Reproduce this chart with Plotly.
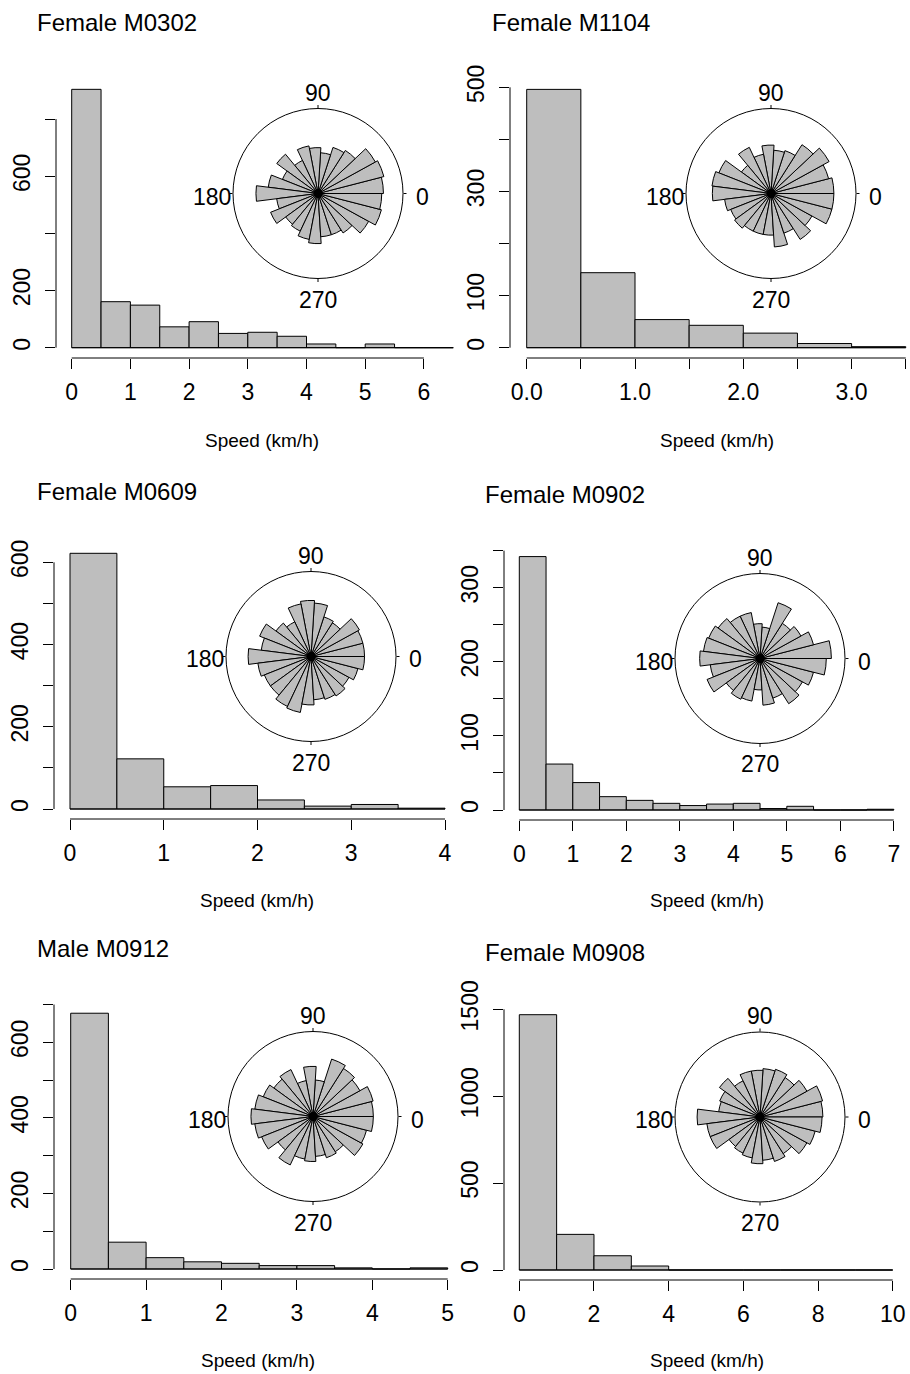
import plotly.graph_objects as go

W, H = 910, 1374
FONT = "Liberation Sans"
GREY = "#BEBEBE"

# ---------------- data ----------------
titles = ["Female M0302", "Female M1104", "Female M0609", "Female M0902", "Male M0912", "Female M0908"]

# histogram counts per speed bin (km/h)
hist_M0302 = [904, 161, 149, 73, 91, 50, 54, 40, 13, 0, 13, 0, 0]
hist_M1104 = [496, 144, 54, 43, 28, 8, 2]
hist_M0609 = [622, 122, 54, 57, 22, 7, 11, 2]
hist_M0902 = [342, 62, 37, 18, 13, 9, 6, 8, 9, 2, 5, 0, 0, 1]
hist_M0912 = [677, 71, 30, 19, 15, 9, 9, 3, 0, 3]
hist_M0908 = [1469, 205, 82, 23, 0, 0, 0, 0, 0, 0]
bin_widths = [0.5, 0.5, 0.5, 0.5, 0.5, 1.0]

# x tick values / labels
xtick_M0302 = [0, 1, 2, 3, 4, 5, 6]
xlab_M0302 = ["0", "1", "2", "3", "4", "5", "6"]
xtick_M1104 = [0, 0.5, 1, 1.5, 2, 2.5, 3, 3.5]
xlab_M1104 = ["0.0", "", "1.0", "", "2.0", "", "3.0", ""]
xtick_M0609 = [0, 1, 2, 3, 4]
xlab_M0609 = ["0", "1", "2", "3", "4"]
xtick_M0902 = [0, 1, 2, 3, 4, 5, 6, 7]
xlab_M0902 = ["0", "1", "2", "3", "4", "5", "6", "7"]
xtick_M0912 = [0, 1, 2, 3, 4, 5]
xlab_M0912 = ["0", "1", "2", "3", "4", "5"]
xtick_M0908 = [0, 2, 4, 6, 8, 10]
xlab_M0908 = ["0", "2", "4", "6", "8", "10"]

# y tick values / labels
ytick_M0302 = [0, 200, 400, 600, 800]
ylab_M0302 = ["0", "200", "", "600", ""]
ytick_M1104 = [0, 100, 200, 300, 400, 500]
ylab_M1104 = ["0", "100", "", "300", "", "500"]
ytick_M0609 = [0, 100, 200, 300, 400, 500, 600]
ylab_M0609 = ["0", "", "200", "", "400", "", "600"]
ytick_M0902 = [0, 50, 100, 150, 200, 250, 300, 350]
ylab_M0902 = ["0", "", "100", "", "200", "", "300", ""]
ytick_M0912 = [0, 100, 200, 300, 400, 500, 600, 700]
ylab_M0912 = ["0", "", "200", "", "400", "", "600", ""]
ytick_M0908 = [0, 500, 1000, 1500]
ylab_M0908 = ["0", "500", "1000", "1500"]

# rose diagrams: 25 direction bins of 14.4 deg, relative petal radius (circle = 1)
rose_bin_deg = 14.4
rose_M0302 = [0.77, 0.80, 0.77, 0.60, 0.57, 0.48, 0.54, 0.57, 0.43, 0.60, 0.45, 0.59, 0.73,
              0.49, 0.60, 0.47, 0.49, 0.55, 0.59, 0.51, 0.51, 0.55, 0.68, 0.77, 0.75]
rose_M1104 = [0.74, 0.70, 0.78, 0.68, 0.53, 0.51, 0.57, 0.47, 0.60, 0.43, 0.66, 0.70, 0.69,
              0.55, 0.51, 0.53, 0.49, 0.49, 0.49, 0.63, 0.49, 0.64, 0.55, 0.74, 0.74]
rose_M0609 = [0.63, 0.63, 0.65, 0.47, 0.49, 0.63, 0.66, 0.63, 0.45, 0.51, 0.65, 0.59, 0.74,
              0.63, 0.59, 0.59, 0.65, 0.67, 0.57, 0.51, 0.53, 0.55, 0.51, 0.57, 0.63]
rose_M0902 = [0.84, 0.65, 0.55, 0.49, 0.69, 0.37, 0.41, 0.55, 0.55, 0.61, 0.65, 0.67, 0.71,
              0.59, 0.67, 0.49, 0.53, 0.51, 0.37, 0.55, 0.49, 0.63, 0.57, 0.65, 0.78]
rose_M0912 = [0.71, 0.73, 0.63, 0.67, 0.71, 0.43, 0.59, 0.43, 0.61, 0.57, 0.63, 0.69, 0.73,
              0.69, 0.65, 0.51, 0.63, 0.51, 0.53, 0.47, 0.51, 0.49, 0.67, 0.65, 0.71]
rose_M0908 = [0.74, 0.76, 0.63, 0.55, 0.59, 0.57, 0.55, 0.55, 0.47, 0.59, 0.51, 0.49, 0.74,
              0.63, 0.63, 0.45, 0.47, 0.49, 0.55, 0.51, 0.55, 0.51, 0.63, 0.67, 0.73]

rose_labels = ["0", "90", "180", "270"]

hists = [hist_M0302, hist_M1104, hist_M0609, hist_M0902, hist_M0912, hist_M0908]
xticks = [xtick_M0302, xtick_M1104, xtick_M0609, xtick_M0902, xtick_M0912, xtick_M0908]
xlabs = [xlab_M0302, xlab_M1104, xlab_M0609, xlab_M0902, xlab_M0912, xlab_M0908]
yticks = [ytick_M0302, ytick_M1104, ytick_M0609, ytick_M0902, ytick_M0912, ytick_M0908]
ylabs = [ylab_M0302, ylab_M1104, ylab_M0609, ylab_M0902, ylab_M0912, ylab_M0908]
roses = [rose_M0302, rose_M1104, rose_M0609, rose_M0902, rose_M0912, rose_M0908]

# ---------------- layout geometry (pixels) ----------------
# (domain L, R, T, B), px of x=0, px per x unit, px of y=0, px per count
geom = [
    (56, 455, 80, 358, 71.7, 58.7, 347.7, 0.2858),
    (510, 910, 79, 358, 526.7, 108.3, 347.7, 0.5208),
    (54, 455, 543, 819, 70.0, 93.75, 809.0, 0.4111),
    (504, 910, 546, 820, 519.3, 53.5, 810.0, 0.741),
    (54, 455, 1003, 1279, 70.7, 75.4, 1269.0, 0.3778),
    (504, 910, 1004, 1280, 519.3, 37.34, 1270.0, 0.1738),
]
rose_centers = [(318, 193.5), (771, 193.5), (311, 656.5), (760, 658.5), (313, 1116.5), (760, 1117)]
rose_r = 85
title_pos = [(35, 22), (490, 22), (35, 491), (483, 494), (35, 948), (483, 952)]
xlabel_pos = [(262, 440), (717, 440), (257, 900), (707, 900), (258, 1360), (707, 1360)]

fig = go.Figure()
shapes = []
annotations = []
layout = dict(
    width=W, height=H, autosize=False,
    margin=dict(l=0, r=0, t=0, b=0, pad=0, autoexpand=False),
    paper_bgcolor="white", plot_bgcolor="white", showlegend=False,
    font=dict(family=FONT, color="black"),
)

for i in range(6):
    n = i + 1
    sfx = "" if n == 1 else str(n)
    xa, ya = f"x{sfx}", f"y{sfx}"
    L, R, T, B, x0, xs, y0, ys = geom[i]
    bw = bin_widths[i]
    counts = hists[i]
    centers = [bw * k + bw / 2 for k in range(len(counts))]
    fig.add_trace(go.Bar(
        x=centers, y=counts, width=bw, xaxis=xa, yaxis=ya,
        marker=dict(color=GREY, line=dict(color="black", width=1)),
    ))
    xr = [(L - x0) / xs, (R - x0) / xs]
    yr = [(y0 - B) / ys, (y0 - T) / ys]
    common = dict(showgrid=False, zeroline=False, showline=False, ticks="outside",
                  ticklen=10, tickwidth=1, tickcolor="black", automargin=False,
                  tickfont=dict(family=FONT, size=23, color="black"))
    layout[f"xaxis{sfx}"] = dict(domain=[L / W, R / W], range=xr, anchor=ya,
                                 tickmode="array", tickvals=xticks[i], ticktext=xlabs[i],
                                 ticklabelstandoff=3, **common)
    layout[f"yaxis{sfx}"] = dict(domain=[1 - B / H, 1 - T / H], range=yr, anchor=xa,
                                 tickmode="array", tickvals=yticks[i], ticktext=ylabs[i],
                                 tickangle=-90, ticklabelstandoff=6, **common)
    # R-style detached axis lines spanning first to last tick
    shapes.append(dict(type="line", xref=f"{xa} domain", yref=ya, x0=0, x1=0,
                       y0=yticks[i][0], y1=yticks[i][-1], line=dict(color="black", width=1)))
    shapes.append(dict(type="line", xref=xa, yref=f"{ya} domain", x0=xticks[i][0], x1=xticks[i][-1],
                       y0=0, y1=0, line=dict(color="black", width=1)))
    # histogram baseline (zero-count bins)
    shapes.append(dict(type="line", xref=xa, yref=ya, x0=0, x1=bw * len(counts),
                       y0=0, y1=0, line=dict(color="black", width=1)))

    # rose diagram
    cx, cy = rose_centers[i]
    pol = f"polar{sfx}"
    thetas = [rose_bin_deg * k + rose_bin_deg / 2 for k in range(len(roses[i]))]
    fig.add_trace(go.Barpolar(
        r=roses[i], theta=thetas, width=rose_bin_deg, subplot=pol,
        marker=dict(color=GREY, line=dict(color="black", width=1)),
    ))
    fig.add_trace(go.Scatterpolar(r=[0], theta=[0], subplot=pol, mode="markers",
                                  marker=dict(color="black", size=9)))
    layout[pol] = dict(
        domain=dict(x=[(cx - rose_r) / W, (cx + rose_r) / W],
                    y=[1 - (cy + rose_r) / H, 1 - (cy - rose_r) / H]),
        bgcolor="rgba(0,0,0,0)",
        radialaxis=dict(range=[0, 1], visible=False, showgrid=False),
        angularaxis=dict(rotation=0, direction="counterclockwise", showgrid=False,
                         showline=True, linecolor="black", linewidth=1,
                         ticks="outside", ticklen=3, tickcolor="black",
                         tickmode="array", tickvals=[0, 90, 180, 270],
                         showticklabels=False),
    )
    offs = [(104, 3), (0, -101), (-106, 3), (0, 106)]
    for lab, (dx, dy) in zip(rose_labels, offs):
        annotations.append(dict(text=lab, x=(cx + dx) / W, y=1 - (cy + dy) / H,
                                xref="paper", yref="paper", xanchor="center", yanchor="middle",
                                showarrow=False, font=dict(family=FONT, size=23, color="black")))

    tx, ty = title_pos[i]
    annotations.append(dict(text=titles[i], x=tx / W, y=1 - ty / H, xref="paper", yref="paper",
                            xanchor="left", yanchor="middle", showarrow=False,
                            font=dict(family=FONT, size=24, color="black")))
    lx, ly = xlabel_pos[i]
    annotations.append(dict(text="Speed (km/h)", x=lx / W, y=1 - ly / H, xref="paper", yref="paper",
                            xanchor="center", yanchor="middle", showarrow=False,
                            font=dict(family=FONT, size=19, color="black")))

layout["shapes"] = shapes
layout["annotations"] = annotations
fig.update_layout(**layout)

post = ("document.body.style.margin='0';document.body.style.padding='0';"
        "var d=document.getElementById('{plot_id}');"
        "d.style.position='absolute';d.style.top='0px';d.style.left='0px';")
fig.write_html("out.html", post_script=post, config={"displayModeBar": False})
